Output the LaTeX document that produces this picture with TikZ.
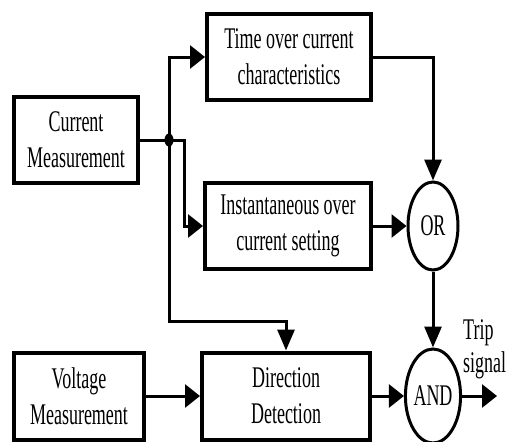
\documentclass[tikz,border=0pt]{standalone}
\usepackage{fontspec}
\setmainfont[FakeStretch=0.6]{Liberation Serif}
\usetikzlibrary{arrows.meta,shapes.geometric}

\tikzset{
  blockbox/.style={draw, line width=4pt, inner sep=0pt, align=center,
    font=\fontsize{30}{36}\selectfont},
  gate/.style={draw, ellipse, line width=3pt, inner sep=0pt,
    minimum width=50pt, minimum height=88pt, font=\fontsize{30}{36}\selectfont},
  conn/.style={line width=3pt},
  harrow/.style={conn, -{Triangle[length=15pt,width=23pt]}},
  varrow/.style={conn, -{Triangle[length=21pt,width=17pt]}},
}

\begin{document}
\begin{tikzpicture}[x=1pt, y=-1pt]
  \useasboundingbox (0,0) rectangle (512,442);

  % processing blocks
  \node[blockbox, minimum width=124pt, minimum height=86pt] (cm)   at (76,140)  {Current\\Measurement};
  \node[blockbox, minimum width=164pt, minimum height=86pt] (toc)  at (289,57)  {Time over current\\characteristics};
  \node[blockbox, minimum width=166pt, minimum height=86pt] (inst) at (288,226) {Instantaneous over\\current setting};
  \node[blockbox, minimum width=130pt, minimum height=87pt] (vm)   at (79,396)  {Voltage\\Measurement};
  \node[blockbox, minimum width=168pt, minimum height=87pt] (dd)   at (286,396) {Direction\\Detection};

  % logic gates
  \node[gate] (or)  at (433,226) {OR};
  \node[gate, minimum height=94pt] (and) at (433,396) {AND};

  % branch points
  \coordinate (j)   at (169,140);
  \coordinate (jr)  at (184,140);
  \coordinate (jd)  at (169,321);
  \coordinate (out) at (497,396);

  % current measurement fan-out
  \draw[conn] (cm.east) -- (j);
  \draw[harrow] (j) |- (toc.west);
  \draw[harrow] (j) -- (jr) |- (inst.west);
  \draw[varrow] (j) -- (jd) -| (dd.north);
  \fill (j) ellipse [x radius=4.5pt, y radius=6.5pt];

  % into the gates
  \draw[varrow] (toc.east) -| (or.north);
  \draw[harrow] (inst.east) -- (or.west);
  \draw[varrow] (or.south) -- (and.north);
  \draw[harrow] (vm.east) -- (dd.west);
  \draw[harrow] (dd.east) -- (and.west);
  \draw[harrow] (and.east) -- (out);

  \node[anchor=west, align=left, inner sep=0pt, font=\fontsize{30}{33}\selectfont] (trip) at (463,349) {Trip\\signal};
\end{tikzpicture}
\end{document}
